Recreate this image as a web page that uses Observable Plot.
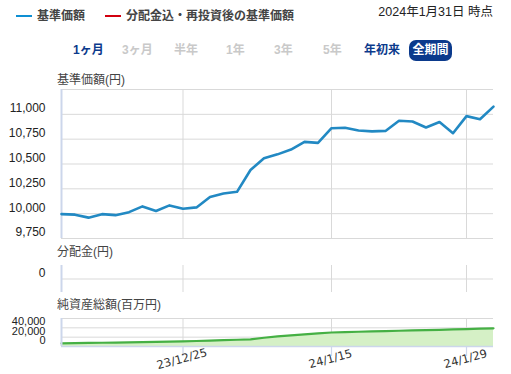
<!DOCTYPE html>
<html><head><meta charset="utf-8">
<script src="https://cdn.jsdelivr.net/npm/d3@7"></script>
<script src="https://cdn.jsdelivr.net/npm/@observablehq/plot@0.6"></script>
<style>
body{margin:0;background:#fff;font-family:"Liberation Sans","Noto Sans CJK JP",sans-serif;}
#root{position:relative;width:511px;height:374px;overflow:hidden;}
.abs{position:absolute;white-space:nowrap;line-height:16px;}
.leg{font-size:12px;font-weight:bold;color:#444;}
.btn{font-size:12px;font-weight:bold;}
.ttl{font-size:12px;color:#444;}
svg{position:absolute;left:0;overflow:visible;}
</style></head>
<body><div id="root"></div>
<script>
const dates = ["2023-12-12","2023-12-13","2023-12-14","2023-12-15","2023-12-18","2023-12-19","2023-12-20","2023-12-21","2023-12-22","2023-12-25","2023-12-26","2023-12-27","2023-12-28","2023-12-29","2024-01-04","2024-01-05","2024-01-09","2024-01-10","2024-01-11","2024-01-12","2024-01-15","2024-01-16","2024-01-17","2024-01-18","2024-01-19","2024-01-22","2024-01-23","2024-01-24","2024-01-25","2024-01-26","2024-01-29","2024-01-30","2024-01-31"];
const nav = [9995,9990,9960,9995,9985,10015,10073,10027,10083,10050,10063,10168,10203,10220,10440,10557,10597,10645,10723,10713,10860,10865,10837,10828,10833,10935,10928,10867,10923,10810,10982,10950,11078];
const netAssets = [6600,7100,7600,8000,8500,9000,9500,10000,10500,11000,11800,12600,13500,14500,15400,18800,21500,24000,26000,28000,30000,30800,31600,32300,33000,33700,34400,35100,35800,36600,37400,38200,38900];
const distribution = dates.map(() => 0);
const xTickDates = ["2023-12-25","2024-01-15","2024-01-29"];
const xTickLabels = ["23/12/25","24/1/15","24/1/29"];
const navTicks = [9750,10000,10250,10500,10750,11000];
const navGrid = [9750,10000,10250,10500,10750,11000,11250];
const distTicks = [0];
const assetTicks = [0,20000,40000];
const assetGrid = [20000,40000,60000];
const rangeButtons = ["1ヶ月","3ヶ月","半年","1年","3年","5年","年初来","全期間"];

const root = document.getElementById("root");
function addDiv(html, cls, left, top, extra) {
  const d = document.createElement("div");
  d.className = "abs " + cls;
  d.innerHTML = html;
  d.style.left = left + "px"; d.style.top = top + "px";
  if (extra) Object.assign(d.style, extra);
  root.appendChild(d);
  return d;
}
// legend
addDiv("", "", 16, 15, {width:"16px",height:"2px",background:"#0e8fd3"});
addDiv("基準価額", "leg", 37, 8);
addDiv("", "", 105, 15, {width:"16px",height:"2px",background:"#d2000f"});
addDiv("分配金込・再投資後の基準価額", "leg", 126, 8);
addDiv("2024年1月31日 時点", "", 0, 4, {fontSize:"12.5px",color:"#222",left:"auto",right:"18px"});
// buttons
const btnX = [73,122,174,226,274,323,364];
const active = [true,false,false,false,false,false,true];
rangeButtons.slice(0,7).forEach((t,i)=>{
  addDiv(t, "btn", btnX[i], 42, {color: active[i] ? "#0b3a8c" : "#c9c9c9"});
});
addDiv(rangeButtons[7], "btn", 409, 40, {width:"43px",height:"21px",lineHeight:"21px",textAlign:"center",background:"#0b3a8c",color:"#fff",borderRadius:"7px"});
// titles
addDiv("基準価額(円)", "ttl", 57, 72);
addDiv("分配金(円)", "ttl", 57, 244);
addDiv("純資産総額(百万円)", "ttl", 57, 297);

const idx = dates.map((d,i)=>i);
const xTickIdx = xTickDates.map(d => dates.indexOf(d));
const xDom = [0, dates.length - 1];
const common = {width: 511, marginLeft: 61, marginRight: 18, style: {fontFamily: "Liberation Sans, sans-serif", fontSize: "12px", color: "#333", overflow: "visible"}};
const grid = "#d9d9d9", axisC = "#ccd6eb";

// main NAV chart
const main = Plot.plot({
  ...common, height: 153, marginTop: 2, marginBottom: 2,
  x: {domain: xDom, axis: null},
  y: {domain: [9750, 11250]},
  marks: [
    Plot.ruleY(navGrid, {stroke: grid, strokeWidth: 1}),
    Plot.ruleX(xTickIdx, {stroke: grid, strokeWidth: 1}),
    Plot.ruleX([0], {stroke: axisC, strokeWidth: 2}),
    Plot.axisY({ticks: navTicks, tickSize: 0, tickPadding: 16, dy: -6, tickFormat: d3.format(","), fill: "#222"}),
    Plot.line(idx, {x: i => i, y: i => nav[i], stroke: "#2289c3", strokeWidth: 2.6})
  ]
});
main.style.top = "87px";
root.appendChild(main);

// distribution chart
const dist = Plot.plot({
  ...common, height: 27, marginTop: 0, marginBottom: 0,
  x: {domain: xDom, axis: null},
  y: {domain: [-1, 1]},
  marks: [
    Plot.ruleY(distTicks, {stroke: grid}),
    Plot.ruleX(xTickIdx, {stroke: grid}),
    Plot.ruleX([0], {stroke: axisC, strokeWidth: 2}),
    Plot.axisY({ticks: distTicks, tickSize: 0, tickPadding: 16, dy: -6, tickFormat: d3.format(","), fill: "#222"})
  ]
});
dist.style.top = "265px";
root.appendChild(dist);

// net assets chart
const assets = Plot.plot({
  ...common, height: 58, marginTop: 2, marginBottom: 28,
  x: {domain: xDom},
  y: {domain: [0, 60000]},
  marks: [
    Plot.ruleY(assetGrid, {stroke: grid}),
    Plot.ruleX(xTickIdx, {stroke: grid}),
    Plot.areaY(idx, {x: i => i, y: i => netAssets[i], fill: "#d5f0c6"}),
    Plot.line(idx, {x: i => i, y: i => netAssets[i], stroke: "#45b044", strokeWidth: 2.2}),
    Plot.ruleY([0], {stroke: axisC, strokeWidth: 1.5}),
    Plot.ruleX([0], {stroke: axisC, strokeWidth: 2}),
    Plot.axisX({ticks: xTickIdx, tickSize: 10, stroke: axisC, strokeWidth: 1.2, tickFormat: () => ""}),
    Plot.text(xTickIdx, {x: d => d, frameAnchor: "bottom", dy: 16, rotate: -15, text: (d,i) => xTickLabels[i], fill: "#333", fontSize: 11.5, fontFamily: "DejaVu Sans, sans-serif"}),
    Plot.axisY({ticks: assetTicks, tickSize: 0, tickPadding: 16, dy: -6, tickFormat: d3.format(","), fill: "#222", fontSize: 11})
  ]
});
assets.style.top = "316px";
root.appendChild(assets);
</script></body></html>
